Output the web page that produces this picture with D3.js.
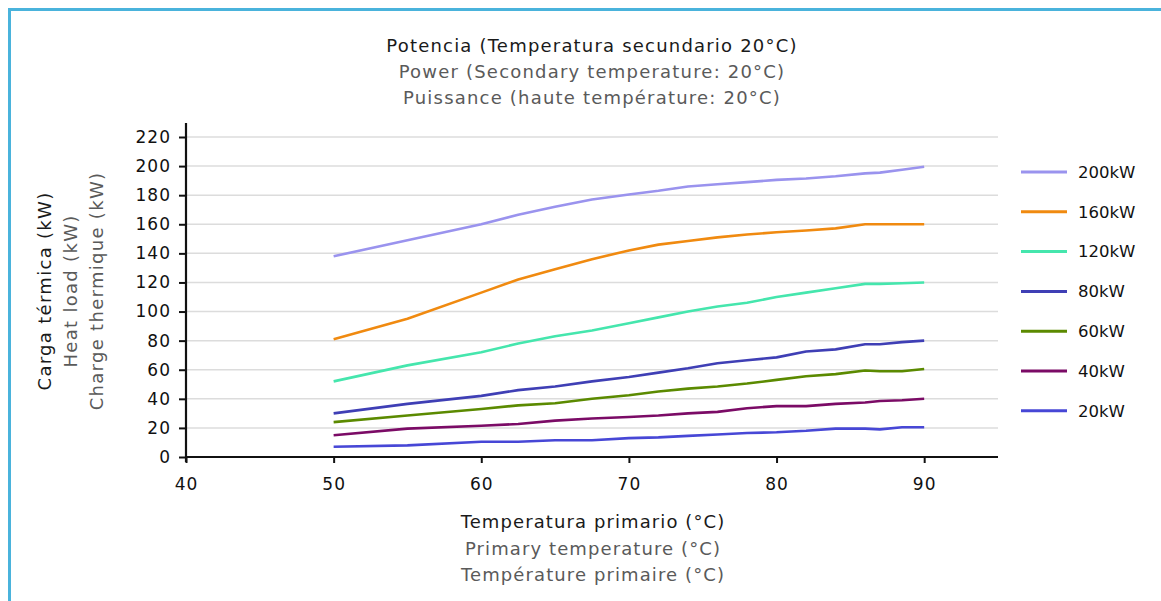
<!DOCTYPE html>
<html>
<head>
<meta charset="utf-8">
<script src="https://cdn.jsdelivr.net/npm/d3@7"></script>
<style>
    html, body { margin: 0; padding: 0; background: #fff; }
    #chart { width: 1161px; height: 601px; }
    text { font-family: "DejaVu Sans", sans-serif; }
</style>
</head>
<body>
<div id="chart"></div>
<script>
    // values
    var temps = [50, 55, 60, 62.5, 65, 67.5, 70, 72, 74, 76, 78, 80, 82, 84, 86, 87, 88.5, 90];
    var kw200 = [138, 149, 160, 166.5, 172, 177, 180.5, 183, 186, 187.5, 189, 190.5, 191.5, 193, 195, 195.5, 197.5, 199.5];
    var kw160 = [81, 95, 113, 122, 129, 136, 142, 146, 148.5, 151, 153, 154.5, 155.7, 157.2, 160, 160, 160, 160];
    var kw120 = [52, 63, 72, 78, 83, 87, 92, 96, 100, 103.5, 106, 110, 113, 116, 119, 119, 119.5, 120];
    var kw80  = [30, 36.5, 42, 46, 48.5, 52, 55, 58, 61, 64.5, 66.5, 68.5, 72.5, 74, 77.5, 77.5, 79, 80];
    var kw60  = [24, 28.5, 33, 35.5, 37, 40, 42.5, 45, 47, 48.5, 50.5, 53, 55.5, 57, 59.5, 59, 59, 60.5];
    var kw40  = [15, 19.5, 21.5, 22.7, 25, 26.5, 27.5, 28.5, 30, 31, 33.5, 35, 35, 36.5, 37.5, 38.5, 39, 40];
    var kw20  = [7, 8, 10.5, 10.5, 11.5, 11.5, 13, 13.5, 14.5, 15.5, 16.5, 17, 18, 19.5, 19.5, 19, 20.5, 20.5];

    var seriesNames = ['200kW', '160kW', '120kW', '80kW', '60kW', '40kW', '20kW'];
    var seriesValues = [kw200, kw160, kw120, kw80, kw60, kw40, kw20];
    var seriesColors = ['#9a93ee', '#f08a10', '#45e6ad', '#3f3fb5', '#5b8a00', '#7b0b66', '#4747d6'];

    var xTicks = [40, 50, 60, 70, 80, 90];
    var yTicks = [0, 20, 40, 60, 80, 100, 120, 140, 160, 180, 200, 220];

    var titleLines = ['Potencia (Temperatura secundario 20°C)', 'Power (Secondary temperature: 20°C)', 'Puissance (haute température: 20°C)'];
    var xTitleLines = ['Temperatura primario (°C)', 'Primary temperature (°C)', 'Température primaire (°C)'];
    var yTitleLines = ['Carga térmica (kW)', 'Heat load (kW)', 'Charge thermique (kW)'];

    var W = 1161, H = 601;
    var svg = d3.select('#chart').append('svg').attr('width', W).attr('height', H);

    // frame (only top and left edges are in view)
    svg.append('line').attr('x1', 9).attr('y1', 9.5).attr('x2', W).attr('y2', 9.5)
        .attr('stroke', '#4ab3dc').attr('stroke-width', 3);
    svg.append('line').attr('x1', 9.5).attr('y1', 8).attr('x2', 9.5).attr('y2', H)
        .attr('stroke', '#4ab3dc').attr('stroke-width', 3);

    var x = d3.scaleLinear().domain([40, 95]).range([186, 998]);
    var y = d3.scaleLinear().domain([0, 220]).range([457, 137]);

    // gridlines
    svg.append('g').selectAll('line').data(yTicks.slice(1)).enter().append('line')
        .attr('x1', x(40)).attr('x2', x(95))
        .attr('y1', function(d) { return y(d); }).attr('y2', function(d) { return y(d); })
        .attr('stroke', '#dcdcdc').attr('stroke-width', 1.5);

    // axes
    var yAxis = svg.append('g').attr('transform', 'translate(' + x(40) + ',0)')
        .call(d3.axisLeft(y).tickValues(yTicks).tickSize(7).tickPadding(8));
    var xAxis = svg.append('g').attr('transform', 'translate(0,' + y(0) + ')')
        .call(d3.axisBottom(x).tickValues(xTicks).tickSize(6).tickPadding(15));
    [xAxis, yAxis].forEach(function(a) {
        a.select('.domain').remove();
        a.selectAll('.tick line').attr('stroke', '#111').attr('stroke-width', 2);
        a.selectAll('.tick text').attr('fill', '#111')
            .attr('font-family', '"DejaVu Sans", sans-serif')
            .style('font-size', '17px').style('letter-spacing', '1px');
    });
    svg.append('line').attr('x1', x(40)).attr('x2', x(40)).attr('y1', 123).attr('y2', y(0) + 5)
        .attr('stroke', '#111').attr('stroke-width', 2.2);
    svg.append('line').attr('x1', x(40) - 1).attr('x2', x(95)).attr('y1', y(0)).attr('y2', y(0))
        .attr('stroke', '#111').attr('stroke-width', 2.2);

    // series
    var line = d3.line()
        .x(function(d) { return x(d[0]); })
        .y(function(d) { return y(d[1]); });
    seriesValues.forEach(function(vals, i) {
        svg.append('path')
            .datum(temps.map(function(t, j) { return [t, vals[j]]; }))
            .attr('d', line)
            .attr('fill', 'none')
            .attr('stroke', seriesColors[i])
            .attr('stroke-width', 2.6)
            .attr('stroke-linejoin', 'round');
    });

    // legend
    var legend = svg.append('g').selectAll('g').data(seriesNames).enter().append('g')
        .attr('transform', function(d, i) { return 'translate(1021,' + (172 + i * 39.8) + ')'; });
    legend.append('line').attr('x1', 0).attr('x2', 46)
        .attr('stroke', function(d, i) { return seriesColors[i]; }).attr('stroke-width', 3);
    legend.append('text').attr('x', 57).attr('dy', '0.35em')
        .style('font-size', '16.5px').attr('fill', '#111')
        .text(function(d) { return d; });

    // titles
    var greys = ['#1a1a1a', '#5a5a5a', '#5a5a5a'];
    svg.append('g').selectAll('text').data(titleLines).enter().append('text')
        .attr('x', 592).attr('y', function(d, i) { return 46 + i * 26; })
        .attr('dy', '0.35em').attr('text-anchor', 'middle')
        .style('font-size', '18px').style('letter-spacing', '1.2px')
        .attr('fill', function(d, i) { return greys[i]; })
        .text(function(d) { return d; });

    svg.append('g').selectAll('text').data(xTitleLines).enter().append('text')
        .attr('x', 593).attr('y', function(d, i) { return 522 + i * 26.5; })
        .attr('dy', '0.35em').attr('text-anchor', 'middle')
        .style('font-size', '18px').style('letter-spacing', '1.1px')
        .attr('fill', function(d, i) { return greys[i]; })
        .text(function(d) { return d; });

    svg.append('g').selectAll('text').data(yTitleLines).enter().append('text')
        .attr('transform', function(d, i) { return 'translate(' + (45 + i * 26) + ',291) rotate(-90)'; })
        .attr('dy', '0.35em').attr('text-anchor', 'middle')
        .style('font-size', '18px').style('letter-spacing', '1.3px')
        .attr('fill', function(d, i) { return greys[i]; })
        .text(function(d) { return d; });
</script>
</body>
</html>
